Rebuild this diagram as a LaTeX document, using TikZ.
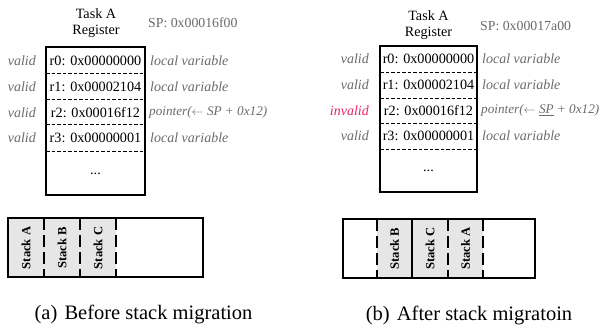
\documentclass[tikz,border=0pt]{standalone}
\usepackage{fontspec}
\setmainfont{Liberation Serif}
\definecolor{notegray}{HTML}{6A6A6A}
\definecolor{badpink}{HTML}{E8256E}
\definecolor{stackfill}{HTML}{E6E6E6}
\tikzset{
  regframe/.style={draw, line width=1.1pt},
  regsep/.style={draw, line width=0.9pt, dash pattern=on 3.5pt off 2pt},
  regtext/.style={font=\fontsize{14.2}{16}\selectfont, inner sep=0pt},
  note/.style={font=\fontsize{14}{16}\selectfont\itshape, text=notegray, inner sep=0pt},
  ptrnote/.style={note, font=\fontsize{13.2}{16}\selectfont\itshape},
  sptext/.style={font=\fontsize{13.8}{16}\selectfont, text=notegray, inner sep=0pt, anchor=west},
  stackframe/.style={draw, line width=1.8pt},
  stackcut/.style={draw, line width=1.4pt, dash pattern=on 12pt off 5pt},
  stackedge/.style={draw, line width=1.2pt},
  stacklabel/.style={font=\fontsize{12.6}{14}\selectfont\bfseries, inner sep=0pt, rotate=90},
  captext/.style={font=\fontsize{20.5}{24}\selectfont, inner sep=0pt}
}
\begin{document}
\begin{tikzpicture}[x=1pt, y=-1pt]
\useasboundingbox (0,0) rectangle (604,329);

% ---------- (a) before migration ----------
\node[regtext] (aTask) at (96,13.5) {Task A};
\node[regtext] (aReg) at (96,31.5) {Register};
\node[sptext] (aSP) at (148,23) {SP: 0x00016f00};

\draw[regframe] (46,47) rectangle (145,195);
\foreach \y in {73,99,124.5,151} \draw[regsep] (46,\y) -- (145,\y);

\node[regtext] (aR0) at (95.5,60.5) {r0: 0x00000000};
\node[regtext] (aR1) at (95.5,86.5) {r1: 0x00002104};
\node[regtext] (aR2) at (95.5,112.5) {r2: 0x00016f12};
\node[regtext] (aR3) at (95.5,138) {r3: 0x00000001};
\node[regtext] (aDots) at (95.5,174) {...};

\node[note, anchor=east] (aV0) at (36,60.5) {valid};
\node[note, anchor=east] (aV1) at (36,86.5) {valid};
\node[note, anchor=east] (aV2) at (36,112.5) {valid};
\node[note, anchor=east] (aV3) at (36,138) {valid};

\node[note, anchor=west] (aN0) at (150,60.5) {local variable};
\node[note, anchor=west] (aN1) at (150,86.5) {local variable};
\node[ptrnote, anchor=west] (aN2) at (149,112.5) {pointer($\leftarrow$ SP + 0x12)};
\node[note, anchor=west] (aN3) at (150,138) {local variable};

\fill[stackfill] (8,218) rectangle (116,277);
\foreach \x in {44,80,116} \draw[stackcut] (\x,218) -- (\x,277);
\draw[stackframe] (8,218) rectangle (203,277);
\node[stacklabel] (aSA) at (26,248) {Stack A};
\node[stacklabel] (aSB) at (62,248) {Stack B};
\node[stacklabel] (aSC) at (98,248) {Stack C};

\node[captext] (aCap) at (143.5,314) {(a)\hspace{0.35em}Before stack migration};

% ---------- (b) after migration ----------
\node[regtext] (bTask) at (428.5,16) {Task A};
\node[regtext] (bReg) at (428.5,33.5) {Register};
\node[sptext] (bSP) at (480,26) {SP: 0x00017a00};

\draw[regframe] (380,46) rectangle (477,192);
\foreach \y in {72,98,123,149} \draw[regsep] (380,\y) -- (477,\y);

\node[regtext] (bR0) at (428.5,59) {r0: 0x00000000};
\node[regtext] (bR1) at (428.5,85) {r1: 0x00002104};
\node[regtext] (bR2) at (428.5,110.5) {r2: 0x00016f12};
\node[regtext] (bR3) at (428.5,136) {r3: 0x00000001};
\node[regtext] (bDots) at (428.5,171) {...};

\node[note, anchor=east] (bV0) at (369,59) {valid};
\node[note, anchor=east] (bV1) at (369,85) {valid};
\node[note, anchor=east, text=badpink] (bV2) at (369,110.5) {invalid};
\node[note, anchor=east] (bV3) at (369,136) {valid};

\node[note, anchor=west] (bN0) at (482,59) {local variable};
\node[note, anchor=west] (bN1) at (482,85) {local variable};
\node[ptrnote, anchor=west] (bN2) at (481,110.5) {pointer($\leftarrow$ \underline{SP} + 0x12)};
\node[note, anchor=west] (bN3) at (482,136) {local variable};

\fill[stackfill] (377,219) rectangle (483,278);
\draw[stackcut] (377,219) -- (377,278);
\draw[stackedge] (412,219) -- (412,278);
\draw[stackcut] (448,219) -- (448,278);
\draw[stackcut] (483,219) -- (483,278);
\draw[stackframe] (343,219) rectangle (535,278);
\node[stacklabel] (bSB) at (394.5,248.5) {Stack B};
\node[stacklabel] (bSC) at (430,248.5) {Stack C};
\node[stacklabel] (bSA) at (465.5,248.5) {Stack A};

\node[captext] (bCap) at (469,315) {(b)\hspace{0.35em}After stack migratoin};
\end{tikzpicture}
\end{document}
